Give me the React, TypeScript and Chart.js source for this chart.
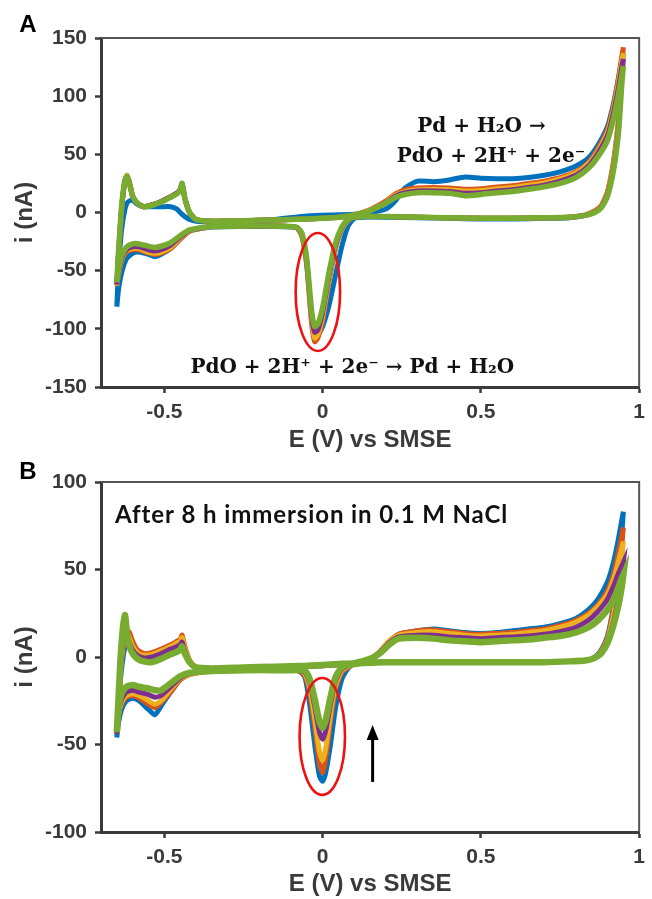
import React, { useEffect, useRef } from "react";
import { Chart, registerables } from "chart.js";
Chart.register(...registerables);

// ---------- shared styling constants ----------
const SERIES_NAMES = ["Cycle 1", "Cycle 2", "Cycle 3", "Cycle 4", "Cycle 5"];
const SERIES_COLORS = ["#0072BD", "#D95319", "#EDB120", "#7E2F8E", "#77AC30"];
const X_TICKS = [-0.5, 0, 0.5, 1];
const X_TITLE = "E (V) vs SMSE";
const Y_TITLE = "i (nA)";

// ---------- Panel A data ----------
const A_E_FWD = [-0.65, -0.645, -0.635, -0.625, -0.618, -0.61, -0.6, -0.585, -0.565, -0.54, -0.51, -0.48, -0.46, -0.45, -0.444, -0.435, -0.42, -0.4, -0.35, -0.25, -0.15, -0.05, 0.05, 0.1, 0.15, 0.2, 0.23, 0.26, 0.3, 0.35, 0.4, 0.45, 0.5, 0.55, 0.6, 0.65, 0.7, 0.75, 0.8, 0.84, 0.87, 0.9, 0.92, 0.935, 0.945, 0.95];
const A_E_REV = [0.95, 0.945, 0.935, 0.92, 0.9, 0.88, 0.86, 0.83, 0.78, 0.7, 0.6, 0.5, 0.4, 0.3, 0.2, 0.13, 0.1, 0.08, 0.06, 0.04, 0.02, 0.0, -0.015, -0.025, -0.035, -0.05, -0.065, -0.08, -0.1, -0.15, -0.25, -0.35, -0.42, -0.45, -0.48, -0.51, -0.53, -0.55, -0.58, -0.6, -0.62, -0.635, -0.645, -0.65];

const A_BLUE_FWD = [-81, -50, -15, 2, 8, 10, 10.5, 7, 5, 5, 5, 5, 3, 0, -1.5, -3.5, -6, -7.5, -8, -7.5, -6, -3, -2, -1.5, 0, 3, 10, 21, 27, 26.5, 28, 30.5, 29.5, 29, 29, 30, 32, 35, 40, 47, 58, 74, 95, 116, 131, 137];
const A_BLUE_REV = [137, 119, 77, 42, 16, 5, 1, -2.5, -4.5, -5, -5.5, -5.5, -5, -4.5, -4, -4, -5, -12, -30, -55, -80, -98, -105, -106, -90, -44, -20, -13.5, -12.5, -12, -12, -12.5, -16, -23, -31, -36, -38, -36, -34, -35, -40, -52, -67, -81];
const A_ORANGE_FWD = [-62, -38, 2, 27, 32, 26, 14, 8, 5, 6.5, 9.5, 13.5, 17, 20, 24, 12, 0, -6, -7.5, -7, -6.5, -5.5, -4, -2, 2.5, 10, 16, 19.5, 21, 21.5, 21, 20, 20.5, 22, 23, 25, 27, 30, 35, 43, 55, 71, 93, 116, 134, 142];
const A_ORANGE_REV = [142, 125, 82, 46, 18, 6, 1.5, -2, -4, -4.5, -5, -5, -4.5, -4, -3.5, -3.5, -4, -7, -15, -32, -60, -93, -108, -111, -95, -46, -21, -13.5, -12, -11.5, -11.5, -12, -16, -23, -31, -35, -36, -35, -32, -32, -34, -42, -54, -62];
const A_YELLOW_FWD = [-63, -38, 2, 26, 32, 26, 14, 8, 5, 6.5, 9.5, 13.5, 16.5, 19.5, 24, 12, 0, -6, -7.5, -7, -6.5, -5.5, -4, -2, 2, 9, 15, 18, 19.5, 20, 19.5, 18.5, 19, 20.5, 21.5, 23.5, 25.5, 29, 34, 42, 53, 69, 90, 112, 130, 137];
const A_YELLOW_REV = [137, 120, 78, 43, 16, 5, 1, -2.5, -4, -4.5, -5, -5, -4.5, -4, -3.5, -3.5, -4, -7, -15, -31, -58, -90, -105, -108, -92, -44, -20, -13.5, -12, -11.5, -11.5, -12, -16, -22, -30, -34, -35, -34, -31, -31, -33, -41, -53, -63];
const A_PURPLE_FWD = [-62, -37, 3, 26, 31, 25, 14, 8, 5, 6.5, 9.5, 13.5, 16.5, 19.5, 25, 12, 0, -6, -7.5, -7, -6.5, -5.5, -4, -2, 1.5, 8.5, 14, 17, 18.5, 18.5, 18, 16.5, 17, 18.5, 19.5, 21.5, 23.5, 27, 32, 40, 51, 66, 87, 108, 125, 132];
const A_PURPLE_REV = [132, 115, 74, 40, 15, 4.5, 0.5, -2.5, -4, -4.5, -5, -5, -4.5, -4, -3.5, -3.5, -4, -6.5, -14, -29, -55, -86, -101, -103, -88, -42, -19, -13, -12, -11.5, -11.5, -12, -15.5, -21, -28, -32, -33, -32, -29.5, -29.5, -32, -40, -52, -62];
const A_GREEN_FWD = [-60, -35, 5, 27, 31, 25, 14, 8, 5, 6, 9, 13, 16, 19, 25, 12, 0, -6, -7.5, -7, -6.5, -5.5, -4, -2, 1.5, 8, 13, 15.5, 17, 17, 16.5, 14.5, 15.5, 17, 18, 20, 22, 25, 30, 38, 48, 62, 82, 102, 118, 126];
const A_GREEN_REV = [126, 110, 70, 38, 14, 4, 0, -2.5, -4, -4.5, -5, -5, -4.5, -4, -3.5, -3.5, -4, -6, -13, -27, -52, -82, -96, -98, -84, -40, -18, -13, -12, -11.5, -11.5, -12, -15, -20, -26, -29, -30, -29, -27, -27, -30, -38, -50, -60];

// ---------- Panel B data ----------
const B_E_FWD = [-0.65, -0.645, -0.638, -0.63, -0.624, -0.618, -0.61, -0.6, -0.585, -0.565, -0.54, -0.51, -0.48, -0.46, -0.45, -0.444, -0.435, -0.42, -0.4, -0.35, -0.25, -0.15, -0.05, 0.05, 0.1, 0.15, 0.18, 0.21, 0.24, 0.3, 0.35, 0.4, 0.45, 0.5, 0.55, 0.6, 0.65, 0.7, 0.75, 0.8, 0.84, 0.87, 0.9, 0.92, 0.935, 0.945, 0.95];
const B_E_REV = [0.95, 0.945, 0.935, 0.92, 0.9, 0.88, 0.86, 0.83, 0.78, 0.7, 0.6, 0.5, 0.4, 0.3, 0.2, 0.13, 0.1, 0.08, 0.06, 0.04, 0.025, 0.01, 0.0, -0.01, -0.025, -0.04, -0.055, -0.07, -0.09, -0.15, -0.25, -0.35, -0.42, -0.45, -0.48, -0.51, -0.53, -0.55, -0.58, -0.6, -0.62, -0.635, -0.645, -0.65];

const B_BLUE_FWD = [-46, -32, -12, 0, 6, 8, 7, 4, 2, 1, 1.5, 3.5, 5.5, 7, 8, 10, 5, -2.5, -6.5, -7, -6.5, -6, -5.5, -4.5, -4, -1.5, 2, 8, 13, 15, 16, 15, 14, 13.5, 14, 15, 16, 17, 19, 22, 27, 33, 43, 55, 68, 78, 83];
const B_BLUE_REV = [83, 70, 50, 30, 12, 4, 0, -2, -2.5, -3, -3, -3, -3, -3, -3, -3.5, -4, -6.5, -13, -30, -50, -66, -71, -68, -50, -28, -12, -8.5, -7.5, -7.5, -7.5, -8, -9.5, -13, -20, -28, -33, -30, -25, -23.5, -25, -30, -38, -46];
const B_ORANGE_FWD = [-44, -30, -8, 5, 12, 15, 14, 9, 4, 2, 2.5, 4.5, 7, 9, 10, 12.5, 6, -2, -6, -7, -6.5, -6, -5.5, -4.5, -4, -1, 3, 9, 13, 15, 15.5, 14.5, 13.5, 13, 13.5, 14, 15, 16, 18, 21, 25, 30, 38, 48, 60, 69, 74];
const B_ORANGE_REV = [74, 63, 46, 28, 11, 3.5, -0.5, -2, -2.5, -3, -3, -3, -3, -3, -3, -3.5, -4, -6, -9, -19, -37, -58, -66, -61, -40, -21, -11, -8.5, -7.5, -7.5, -7.5, -8, -10, -13, -20, -26, -29, -27, -23.5, -22, -23, -27, -34, -44];
const B_YELLOW_FWD = [-44, -29, -6, 7, 12, 14, 11, 6, 2.5, 1, 1.5, 3.5, 6, 8, 9, 11, 5, -2.5, -6, -6.5, -6, -5.5, -5, -4, -3.5, -1, 3, 9, 12.5, 14, 14.5, 13.5, 12.5, 12, 12.5, 13, 14, 15, 17, 20, 24, 29, 36, 45, 55, 62, 66];
const B_YELLOW_REV = [66, 56, 41, 25, 10, 3, -0.5, -2, -2.5, -3, -3, -3, -3, -3, -3, -3.5, -4, -5.5, -8, -17, -33, -52, -59, -54, -35, -18, -10, -8, -7.5, -7.5, -7.5, -8, -10, -12.5, -18.5, -25, -27, -25, -22, -21, -22, -26, -33, -44];
const B_PURPLE_FWD = [-44, -28, -4, 10, 14, 13, 8, 4, 1, -0.5, 0, 2, 4.5, 6, 7, 8.5, 3, -3, -6, -6.5, -6, -5.5, -5, -4, -3.5, -1, 2.5, 8, 11.5, 12.5, 12.5, 11.5, 11, 10.5, 11, 11.5, 12, 13, 14.5, 17, 21, 26, 33, 41, 48, 52, 54];
const B_PURPLE_REV = [54, 46, 34, 21, 9, 2.5, -0.5, -2, -2.5, -3, -3, -3, -3, -3, -3, -3.5, -4, -5, -7, -14, -27, -42, -47, -43, -28, -15, -9, -8, -7.5, -7.5, -7.5, -8, -9.5, -12, -17, -22, -23, -21.5, -20, -19, -20, -24, -32, -44];
const B_GREEN_FWD = [-43, -25, 0, 18, 24, 14, 6, 2, -1, -2.5, -3, -1, 1.5, 3, 4, 6, 2, -3, -6, -6.5, -6, -5.5, -5, -4, -3.5, -1, 2, 7, 10.5, 11, 10.5, 9.5, 9, 8.5, 9, 9.5, 10, 11, 12, 14, 17, 21, 27, 33, 40, 45, 47];
const B_GREEN_REV = [47, 40, 30, 19, 8, 2, -0.5, -2, -2.5, -3, -3, -3, -3, -3, -3, -3.5, -4, -4.5, -6, -12, -23, -36, -40.5, -37, -24, -13, -8, -7.5, -7.5, -7.5, -7.5, -8, -9, -11, -15, -19, -19, -18, -17, -16, -17, -21, -30, -43];

// ---------- axis ranges / ticks ----------
const A_Y_MIN = -150, A_Y_MAX = 150, A_Y_STEP = 50;
const B_Y_MIN = -100, B_Y_MAX = 100, B_Y_STEP = 50;
const X_MIN = -0.7, X_MAX = 1;

// ---------- annotations (data coordinates) ----------
const A_LABEL = "A";
const B_LABEL = "B";
const A_EQ_OX = ["Pd + H₂O →", "PdO + 2H⁺ + 2e⁻"];
const A_EQ_OX_POS = [{ x: 0.502, y: 73.5 }, { x: 0.532, y: 47.7 }];
const A_EQ_RED = "PdO + 2H⁺ + 2e⁻ → Pd + H₂O";
const A_EQ_RED_POS = { x: 0.094, y: -133.7 };
const A_ELLIPSE = { cx: -0.015, cy: -68.3, rx: 0.0702, ry: 50.7 };
const B_NOTE = "After 8 h immersion in 0.1 M NaCl";
const B_NOTE_POS = { x: -0.656, y: 81.1 };
const B_ELLIPSE = { cx: -0.001, cy: -45.4, rx: 0.0717, ry: 33.4 };
const B_ARROW = { x: 0.158, y0: -71.4, y1: -38.9 };

const AXIS_COLOR = "#3a3a3a";
const TICK_FONT = { family: '"Liberation Sans", Arial, sans-serif', size: 21, weight: "bold" as const };
const TITLE_FONT = { family: '"Liberation Sans", Arial, sans-serif', size: 24, weight: "bold" as const };

function buildDatasets(eFwd: number[], eRev: number[], fwd: number[][], rev: number[][], widths: number[]) {
  const n = fwd.length;
  return fwd.map((f, i) => ({
    label: SERIES_NAMES[i],
    data: eFwd.map((e, k) => ({ x: e, y: f[k] })).concat(eRev.map((e, k) => ({ x: e, y: rev[i][k] }))),
    borderColor: SERIES_COLORS[i],
    backgroundColor: SERIES_COLORS[i],
    borderWidth: widths[i],
    pointRadius: 0,
    showLine: true,
    tension: 0.2,
    fill: false,
    order: n - 1 - i, // later cycles are painted on top
  }));
}

function drawEllipse(chart: any, e: any) {
  const { ctx, scales } = chart;
  const x = scales.x, y = scales.y;
  const cx = x.getPixelForValue(e.cx), cy = y.getPixelForValue(e.cy);
  const rx = Math.abs(x.getPixelForValue(e.cx + e.rx) - cx);
  const ry = Math.abs(y.getPixelForValue(e.cy + e.ry) - cy);
  ctx.save();
  ctx.strokeStyle = "#ee1111";
  ctx.lineWidth = 2.6;
  ctx.beginPath();
  ctx.ellipse(cx, cy, rx, ry, 0, 0, Math.PI * 2);
  ctx.stroke();
  ctx.restore();
}

function drawFrame(chart: any) {
  const { ctx, chartArea: ca } = chart;
  ctx.save();
  ctx.strokeStyle = "#555";
  ctx.lineWidth = 2;
  ctx.beginPath();
  ctx.moveTo(ca.left, ca.top);
  ctx.lineTo(ca.right, ca.top);
  ctx.lineTo(ca.right, ca.bottom);
  ctx.stroke();
  ctx.restore();
}

function drawPanelLabel(chart: any, text: string, px: number, py: number) {
  const { ctx } = chart;
  ctx.save();
  ctx.fillStyle = "#000";
  ctx.font = 'bold 24px "Liberation Sans", Arial, sans-serif';
  ctx.textAlign = "center";
  ctx.textBaseline = "middle";
  ctx.fillText(text, px, py);
  ctx.restore();
}

const decorA = {
  id: "decorA",
  afterDatasetsDraw(chart: any) {
    const { ctx, scales } = chart;
    drawFrame(chart);
    drawEllipse(chart, A_ELLIPSE);
    ctx.save();
    ctx.fillStyle = "#111";
    ctx.font = 'bold 20px "DejaVu Serif", serif';
    ctx.textAlign = "center";
    ctx.textBaseline = "middle";
    A_EQ_OX.forEach((t, i) => {
      ctx.fillText(t, scales.x.getPixelForValue(A_EQ_OX_POS[i].x), scales.y.getPixelForValue(A_EQ_OX_POS[i].y));
    });
    ctx.fillText(A_EQ_RED, scales.x.getPixelForValue(A_EQ_RED_POS.x), scales.y.getPixelForValue(A_EQ_RED_POS.y));
    ctx.restore();
    drawPanelLabel(chart, A_LABEL, 28, 25);
  },
};

const decorB = {
  id: "decorB",
  afterDatasetsDraw(chart: any) {
    const { ctx, scales } = chart;
    drawFrame(chart);
    drawEllipse(chart, B_ELLIPSE);
    // arrow
    const ax = scales.x.getPixelForValue(B_ARROW.x);
    const ay0 = scales.y.getPixelForValue(B_ARROW.y0);
    const ay1 = scales.y.getPixelForValue(B_ARROW.y1);
    ctx.save();
    ctx.strokeStyle = "#000";
    ctx.fillStyle = "#000";
    ctx.lineWidth = 3;
    ctx.beginPath();
    ctx.moveTo(ax, ay0);
    ctx.lineTo(ax, ay1 + 12);
    ctx.stroke();
    ctx.beginPath();
    ctx.moveTo(ax, ay1);
    ctx.lineTo(ax - 6, ay1 + 15);
    ctx.lineTo(ax + 6, ay1 + 15);
    ctx.closePath();
    ctx.fill();
    // note
    ctx.font = 'bold 24px Lato, "Open Sans", sans-serif';
    try { (ctx as any).letterSpacing = "0.9px"; } catch (e) { /* ignore */ }
    ctx.textAlign = "left";
    ctx.textBaseline = "middle";
    ctx.fillStyle = "#111";
    ctx.fillText(B_NOTE, scales.x.getPixelForValue(B_NOTE_POS.x), scales.y.getPixelForValue(B_NOTE_POS.y));
    ctx.restore();
    drawPanelLabel(chart, B_LABEL, 28, 12);
  },
};

function makeOptions(yMin: number, yMax: number, yStep: number, padTop: number, xHeight: number, xTitlePadBottom: number) {
  return {
    responsive: false,
    animation: false as const,
    events: [] as any[],
    layout: { padding: { top: padTop, right: 6, left: 0, bottom: 0 } },
    plugins: { legend: { display: false }, tooltip: { enabled: false } },
    scales: {
      x: {
        type: "linear" as const,
        min: X_MIN,
        max: X_MAX,
        afterBuildTicks: (s: any) => { s.ticks = X_TICKS.map((v) => ({ value: v })); },
        afterFit: (s: any) => { s.height = xHeight; },
        ticks: { font: TICK_FONT, color: "#3a3a3a", padding: 7, maxRotation: 0, autoSkip: false, callback: (v: any) => String(v) },
        grid: { display: true, drawOnChartArea: false, drawTicks: true, tickLength: 6, tickWidth: 2.5, tickColor: AXIS_COLOR },
        border: { display: true, color: AXIS_COLOR, width: 3 },
        title: { display: true, text: X_TITLE, font: TITLE_FONT, color: "#3a3a3a", padding: { top: 0, bottom: xTitlePadBottom } },
      },
      y: {
        type: "linear" as const,
        min: yMin,
        max: yMax,
        afterFit: (s: any) => { s.width = 101; },
        ticks: { stepSize: yStep, font: TICK_FONT, color: "#3a3a3a", padding: 8, callback: (v: any) => String(v) },
        grid: { display: true, drawOnChartArea: false, drawTicks: true, tickLength: 6, tickWidth: 2.5, tickColor: AXIS_COLOR },
        border: { display: true, color: AXIS_COLOR, width: 3 },
        title: { display: true, text: Y_TITLE, font: TITLE_FONT, color: "#3a3a3a", padding: { top: 11, bottom: 0 } },
      },
    },
  };
}

export default function App() {
  const refA = useRef<HTMLCanvasElement>(null);
  const refB = useRef<HTMLCanvasElement>(null);

  useEffect(() => {
    const chartA = new Chart(refA.current as HTMLCanvasElement, {
      type: "scatter",
      data: {
        datasets: buildDatasets(
          A_E_FWD, A_E_REV,
          [A_BLUE_FWD, A_ORANGE_FWD, A_YELLOW_FWD, A_PURPLE_FWD, A_GREEN_FWD],
          [A_BLUE_REV, A_ORANGE_REV, A_YELLOW_REV, A_PURPLE_REV, A_GREEN_REV],
          [5, 5, 5, 5, 5.5]
        ) as any,
      },
      options: makeOptions(A_Y_MIN, A_Y_MAX, A_Y_STEP, 38, 73, 5) as any,
      plugins: [decorA],
    });
    const chartB = new Chart(refB.current as HTMLCanvasElement, {
      type: "scatter",
      data: {
        datasets: buildDatasets(
          B_E_FWD, B_E_REV,
          [B_BLUE_FWD, B_ORANGE_FWD, B_YELLOW_FWD, B_PURPLE_FWD, B_GREEN_FWD],
          [B_BLUE_REV, B_ORANGE_REV, B_YELLOW_REV, B_PURPLE_REV, B_GREEN_REV],
          [5, 5, 5, 5, 6.5]
        ) as any,
      },
      options: makeOptions(B_Y_MIN, B_Y_MAX, B_Y_STEP, 22, 67, 0) as any,
      plugins: [decorB],
    });
    return () => {
      chartA.destroy();
      chartB.destroy();
    };
  }, []);

  return (
    <div style={{ position: "absolute", left: 0, top: 0, width: 652, height: 899, background: "#fff", overflow: "hidden" }}>
      <canvas ref={refA} width={652} height={460} style={{ position: "absolute", left: 0, top: 0, width: 652, height: 460 }} />
      <canvas ref={refB} width={652} height={439} style={{ position: "absolute", left: 0, top: 460, width: 652, height: 439 }} />
    </div>
  );
}
